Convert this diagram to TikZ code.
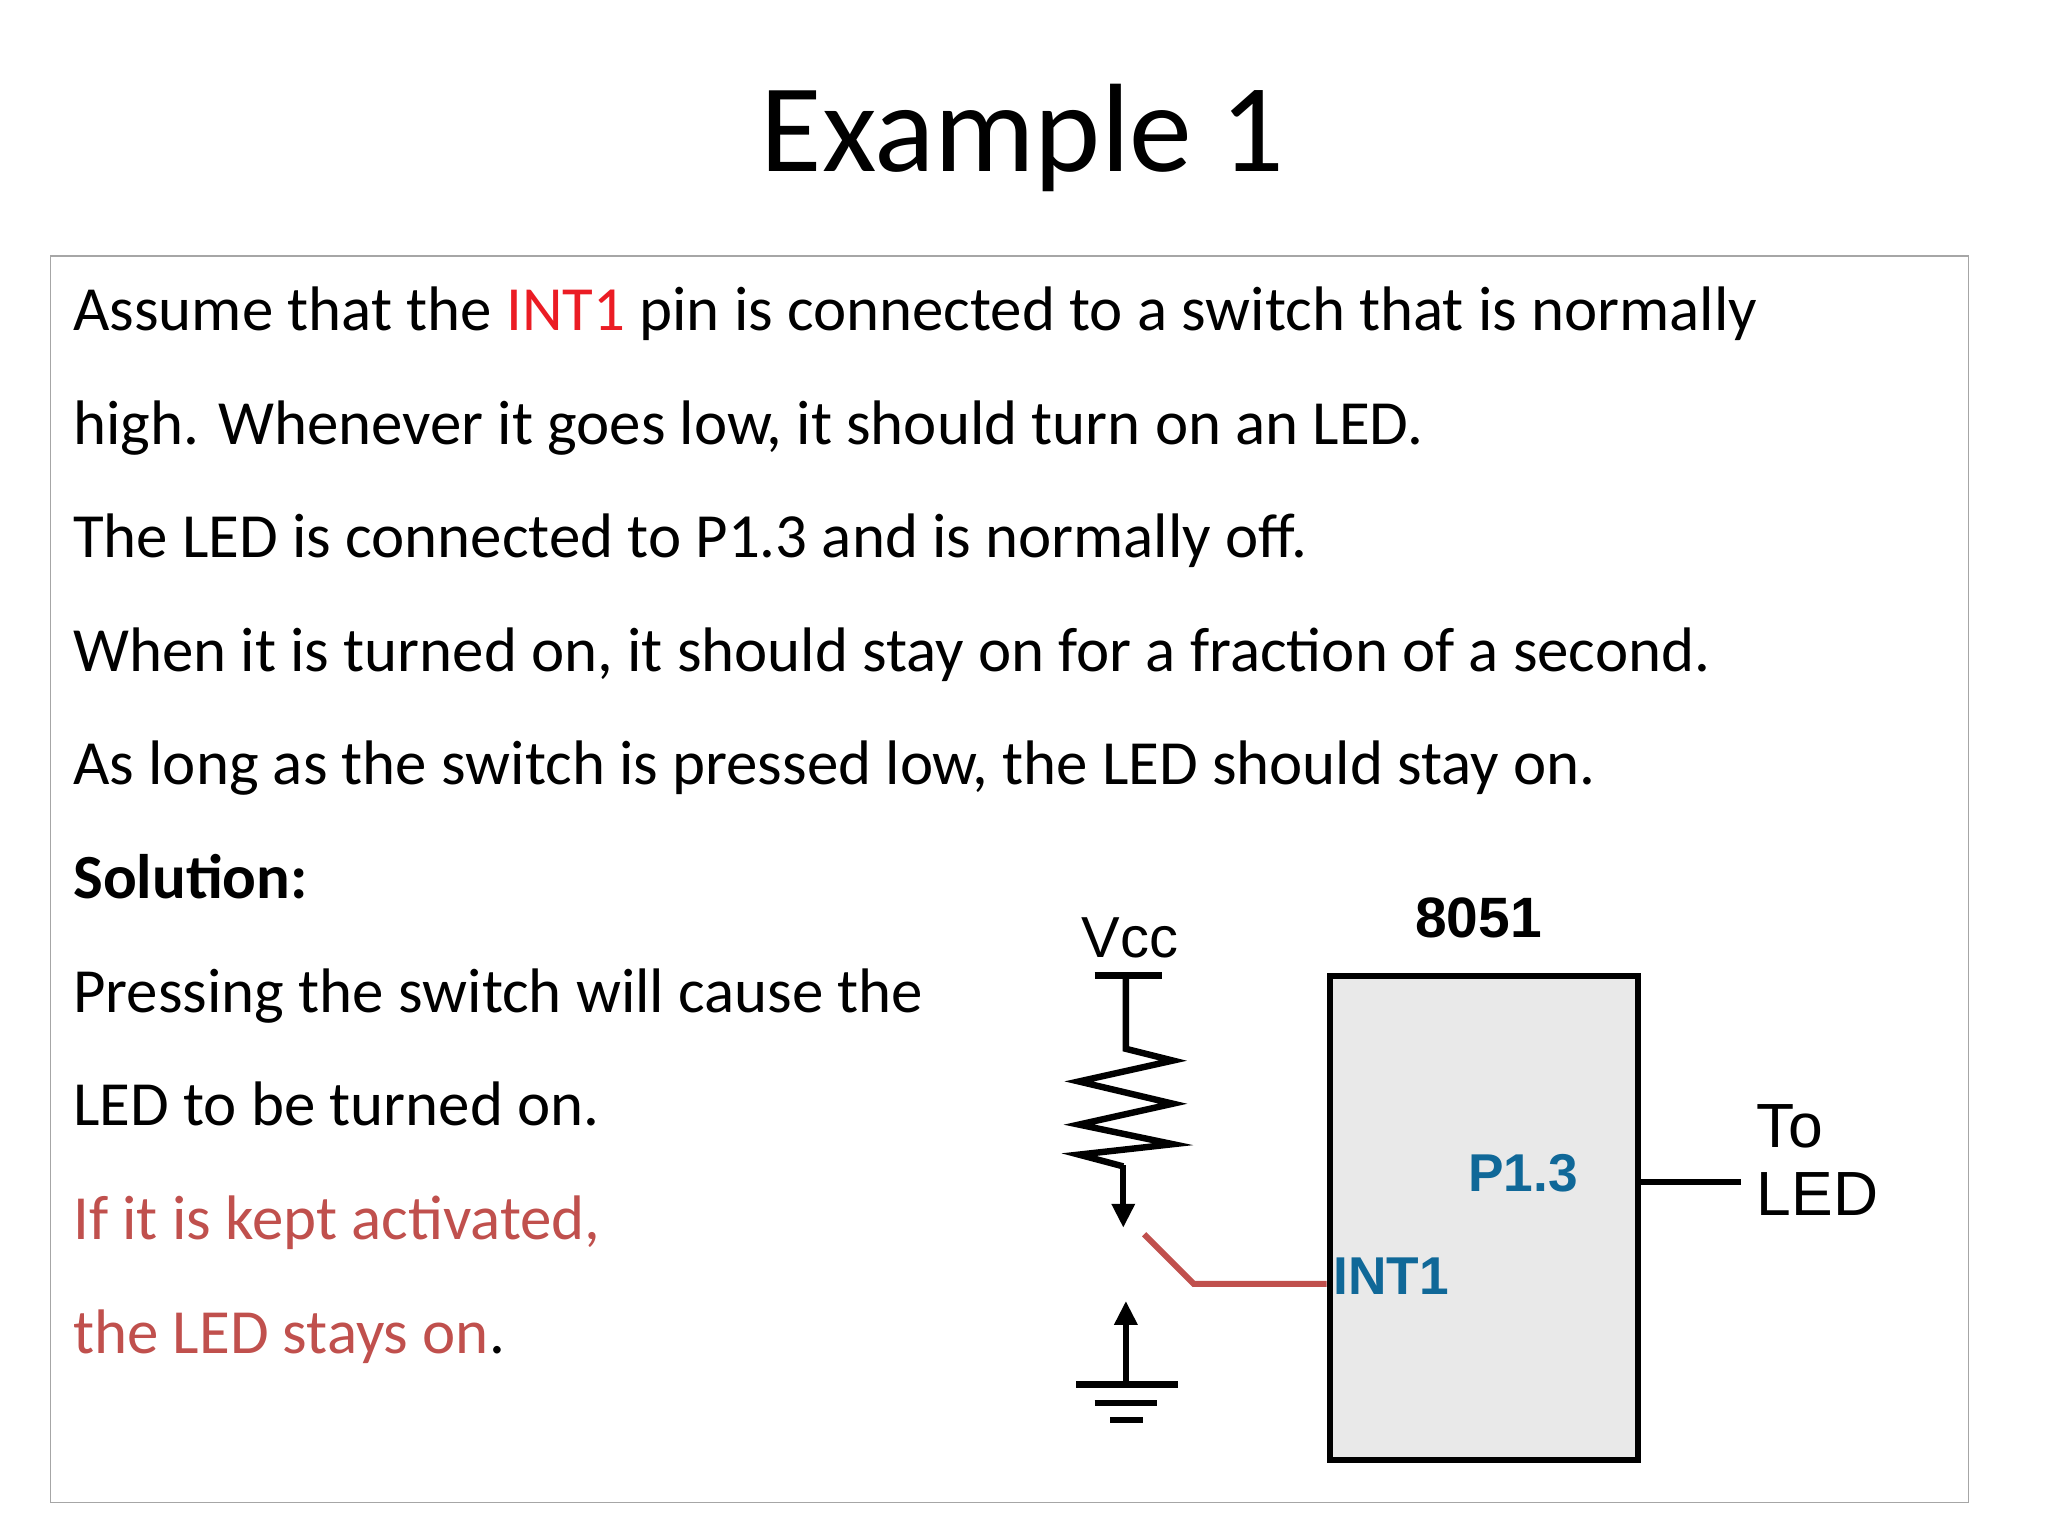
\documentclass[tikz,border=0pt]{standalone}
\usepackage{fontspec}
\setmainfont{Carlito}
\newfontfamily\arial{Liberation Sans}
\usetikzlibrary{arrows.meta}
\definecolor{myred}{RGB}{235,28,36}
\definecolor{dred}{RGB}{192,80,77}
\definecolor{pblue}{RGB}{16,104,152}
\begin{document}
\begin{tikzpicture}[x=0.05cm,y=-0.05cm,
  body/.style={anchor=base west,inner sep=0,font=\fontsize{68.5}{76}\selectfont},
  lab/.style={inner sep=0,font=\arial\fontsize{60}{66}\selectfont},
  wire/.style={line width=7pt},
  arr/.style={wire,-{Triangle[length=26pt,width=24pt]}}]
\useasboundingbox (0,0) rectangle (1568,1176);
\fill[white] (0,0) rectangle (1568,1176);
\node[inner sep=0,font=\fontsize{137}{146}\selectfont] (title) at (783,106) {Example 1};
\draw[gray!70,line width=1.2pt] (39,196) rectangle (1507,1150);
\node[body] (l1) at (56,253) {Assume that the \textcolor{myred}{INT1} pin is connected to a switch that is normally};
\node[body] (l2) at (56,340) {high. Whenever it goes low, it should turn on an LED.};
\node[body] (l3) at (56,427) {The LED is connected to P1.3 and is normally off.};
\node[body] (l4) at (56,514) {When it is turned on, it should stay on for a fraction of a second.};
\node[body] (l5) at (56,601) {As long as the switch is pressed low, the LED should stay on.};
\node[body] (l6) at (56,688) {\textbf{Solution:}};
\node[body] (l7) at (56,775) {Pressing the switch will cause the};
\node[body] (l8) at (56,862) {LED to be turned on.};
\node[body,text=dred] (l9) at (56,949) {If it is kept activated,};
\node[body] (l10) at (56,1036) {\textcolor{dred}{the LED stays on}.};
% circuit
\node[lab,font=\arial\fontsize{63}{70}\selectfont] (vcc) at (865,718) {Vcc};
\coordinate (vt) at (862,747);
\draw[wire] (838,747) -- (890,747);
\draw[wire,line join=miter] (vt) -- (862,803) -- (898,812) -- (826,828) -- (898,845) -- (826,861) -- (898,876) -- (826,884) -- (860,893);
\coordinate (sw) at (860,940);
\draw[arr] (860,892) -- (sw);
\coordinate (gt) at (862,996);
\coordinate (gb) at (862,1060);
\draw[arr] (gb) -- (gt);
\draw[wire] (824,1060) -- (902,1060);
\draw[wire] (838,1074) -- (886,1074);
\draw[wire] (850,1087) -- (875,1087);
\node[draw,line width=6.5pt,fill=gray!17,minimum width=236*0.05cm,minimum height=371*0.05cm,inner sep=0] (chip) at (1136,932.5) {};
\node[lab,font=\arial\bfseries\fontsize{62}{68}\selectfont] (n8051) at (1132,703) {8051};
\node[lab,text=pblue,font=\arial\bfseries\fontsize{58}{64}\selectfont] (p13) at (1166,898) {P1.3};
\node[lab,text=pblue,font=\arial\bfseries\fontsize{58}{64}\selectfont,anchor=west] (int1) at (1021,977) {INT1};
\coordinate (sk) at (914,983);
\draw[dred,line width=6.5pt] (876,945) -- (sk) -- (chip.west |- sk);
\coordinate (led) at (1333,905);
\draw[wire] (chip.east |- led) -- (led);
\node[lab,anchor=west,font=\arial\fontsize{68}{74}\selectfont] (to) at (1345,862) {To};
\node[lab,anchor=west,font=\arial\fontsize{68}{74}\selectfont] (ledt) at (1345,914) {LED};
\end{tikzpicture}
\end{document}
